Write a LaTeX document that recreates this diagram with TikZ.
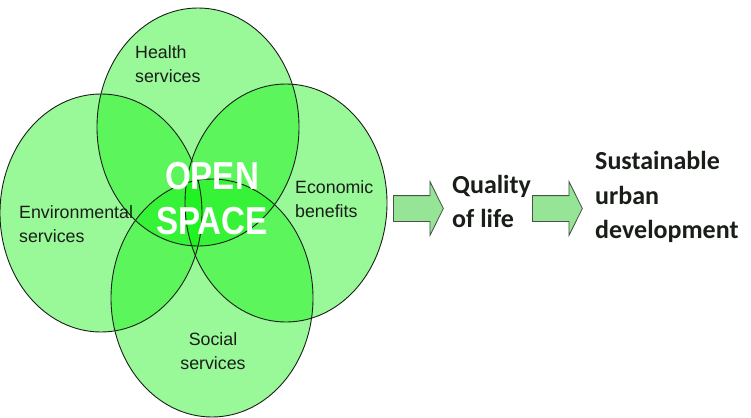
\documentclass[tikz,border=0pt]{standalone}
\usepackage{fontspec}
\setmainfont{Liberation Sans}
\newfontfamily\calib{Carlito}
\usetikzlibrary{arrows.meta,positioning,calc,shapes.geometric,shapes.arrows}
\definecolor{ogreen}{RGB}{0,240,0}
\definecolor{oline}{RGB}{25,30,25}
\definecolor{afill}{RGB}{150,228,150}
\definecolor{agray}{RGB}{70,85,70}

\tikzset{
  petal/.style={ellipse,inner sep=0pt,minimum width=202pt,minimum height=238pt,
    fill=ogreen,fill opacity=0.4},
  lab/.style={font=\fontsize{17.8}{24}\selectfont,text=oline,inner sep=0pt},
  blockarrow/.style={single arrow,single arrow head extend=14pt,single arrow tip angle=127,
    inner xsep=0pt,inner ysep=12.5pt,minimum height=50pt,anchor=tail,
    fill=afill,draw=agray,line width=0.8pt},
  bigtxt/.style={font=\calib\bfseries\fontsize{26}{34.5}\selectfont,text=oline,
    inner sep=0pt,align=left,anchor=west}
}

\begin{document}
\begin{tikzpicture}[x=1pt,y=-1pt]
\useasboundingbox (0,0) rectangle (751,417);
% the four services
\foreach \nm/\cx/\cy in {health/198/127, env/101/213, econ/286/203, social/212/298}{%
  \node[petal] (\nm) at (\cx,\cy) {};
}
\foreach \nm in {health,env,econ,social}
  \draw[oline,line width=0.9pt] (\nm.center) ellipse [x radius=101, y radius=119];

\node[lab,align=left,anchor=west] (hlab) at (135,64) {Health\\services};
\node[lab,align=left,anchor=west] (elab) at (19,224.5) {Environmental\\services};
\node[lab,align=left,anchor=west] (blab) at (295,199.5) {Economic\\benefits};
\node[lab,align=center] (slab) at (213,351.5) {Social\\services};

\node[font=\bfseries\fontsize{39}{45}\selectfont,text=white,xscale=0.85,
  align=center,inner sep=0pt] (open) at (212,199) {OPEN\\SPACE};

% open space -> quality of life -> sustainability
\node[blockarrow] (arr1) at (393,208.5) {};
\node[bigtxt] (qol) at (452,201.5) {Quality\\of life};
\node[blockarrow] (arr2) at (532,208.5) {};
\node[bigtxt] (sud) at (595,197) {Sustainable\\urban\\development};
\end{tikzpicture}
\end{document}
